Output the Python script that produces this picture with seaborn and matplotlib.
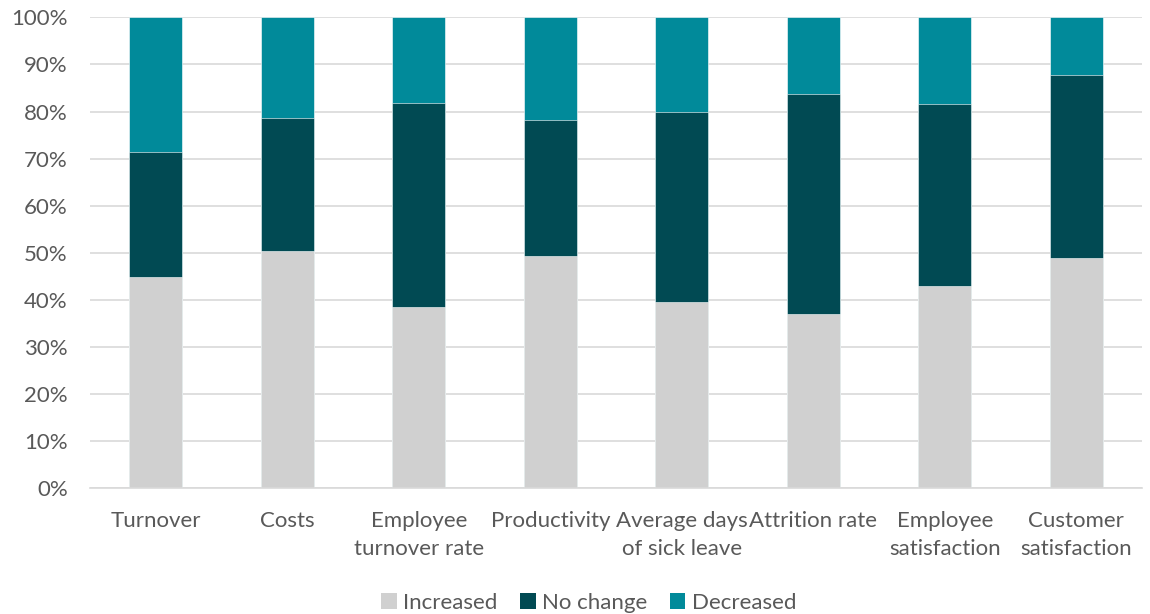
import matplotlib
matplotlib.use("Agg")
import matplotlib.pyplot as plt
from matplotlib.patches import Patch
from matplotlib.ticker import FuncFormatter, MultipleLocator
import numpy as np
import pandas as pd
import seaborn as sns

categories = ["Turnover", "Costs", "Employee\nturnover rate", "Productivity",
              "Average days\nof sick leave", "Attrition rate",
              "Employee\nsatisfaction", "Customer\nsatisfaction"]
increased = [44.8, 50.3, 38.6, 49.3, 39.6, 37.1, 43.0, 48.9]
no_change = [26.7, 28.3, 43.3, 29.0, 40.4, 46.7, 38.6, 38.8]
decreased = [28.5, 21.4, 18.1, 21.7, 20.0, 16.2, 18.4, 12.3]
series_names = ["Increased", "No change", "Decreased"]
colors = ["#D0D0D0", "#014A53", "#018A9A"]

sns.set_theme(style="white")
plt.rcParams["font.family"] = ["Lato", "DejaVu Sans"]

df = pd.DataFrame({"category": categories,
                   "Increased": increased,
                   "No change": no_change,
                   "Decreased": decreased})
df["top_inc"] = df["Increased"]
df["top_nc"] = df["Increased"] + df["No change"]
df["top_dec"] = df["top_nc"] + df["Decreased"]

fig = plt.figure(figsize=(11.5, 6.14), dpi=100)
ax = fig.add_axes([0.0783, 0.2044, 0.9147, 0.7674])

# stacked bars drawn as overlapping cumulative layers
for col, color in zip(["top_dec", "top_nc", "top_inc"], colors[::-1]):
    sns.barplot(data=df, x="category", y=col, color=color, width=0.4,
                saturation=1, edgecolor="white", linewidth=0.4, ax=ax)

ax.set_ylim(0, 100)
ax.set_xlim(-0.5, len(categories) - 0.5)
ax.yaxis.set_major_locator(MultipleLocator(10))
ax.yaxis.set_major_formatter(FuncFormatter(lambda v, _: f"{v:.0f}%"))
ax.grid(axis="y", color="#D9D9D9", linewidth=1.2)
ax.set_axisbelow(True)
for s in ["top", "right", "left"]:
    ax.spines[s].set_visible(False)
ax.spines["bottom"].set_color("#D9D9D9")
ax.spines["bottom"].set_linewidth(1.2)
ax.set_xlabel("")
ax.set_ylabel("")
ax.tick_params(axis="both", length=0, colors="#595959", labelsize=16)
ax.tick_params(axis="x", pad=16)
ax.tick_params(axis="y", pad=16)
for lbl in ax.get_xticklabels():
    lbl.set_linespacing(1.5)

handles = [Patch(facecolor=c, edgecolor="none", label=n)
           for n, c in zip(series_names, colors)]
fig.legend(handles=handles, loc="center", bbox_to_anchor=(0.512, 0.018), ncol=3,
           frameon=False, fontsize=16, handlelength=0.7, handleheight=0.7,
           handletextpad=0.3, columnspacing=1.0, labelcolor="#595959")

fig.savefig("out.png", dpi=100)
